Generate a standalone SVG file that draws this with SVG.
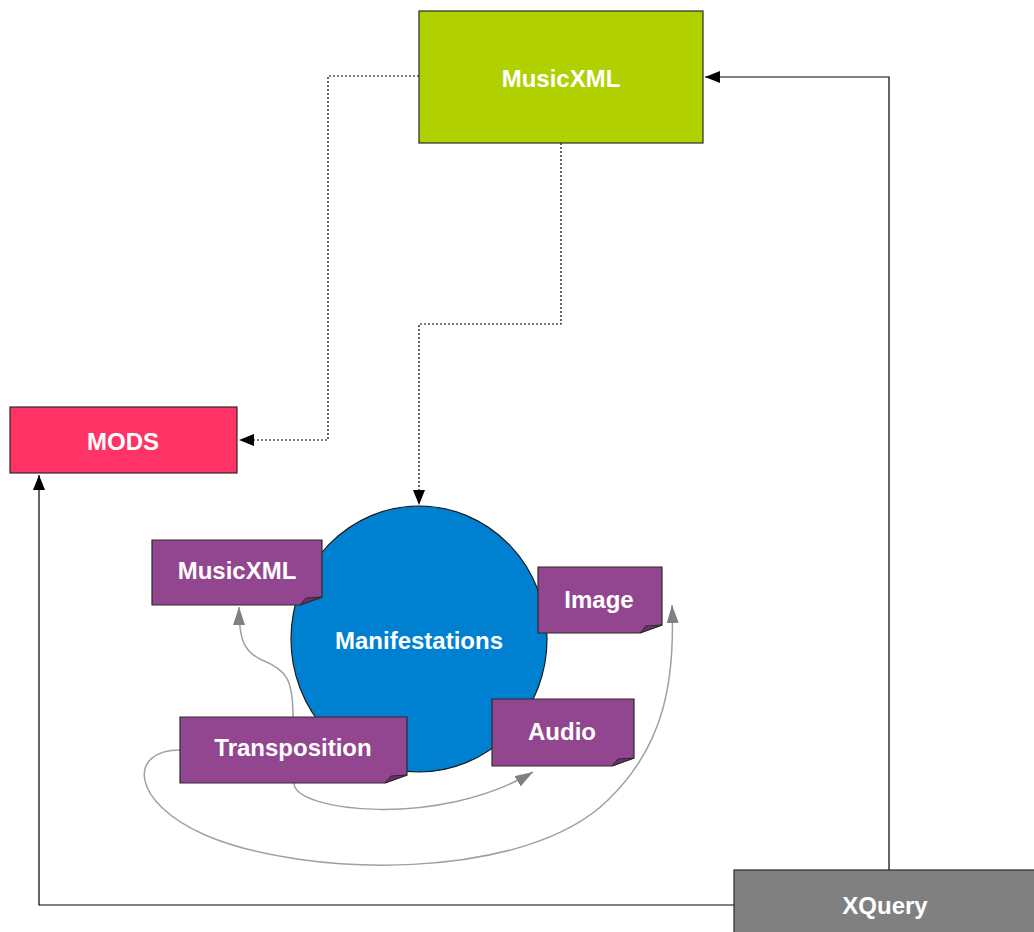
<svg xmlns="http://www.w3.org/2000/svg" width="1034" height="932" viewBox="0 0 1034 932">
  <style>
    .box { stroke: #2a2a2a; stroke-width: 1.2; }
    .lbl { font-family: "Liberation Sans", Arial, sans-serif; font-weight: bold; font-size: 24px; fill: #ffffff; text-anchor: middle; dominant-baseline: central; }
    .note { fill: #934690; stroke: #2a2a2a; stroke-width: 1.2; }
    .fold { fill: #6e2f6c; stroke: #2a2a2a; stroke-width: 1; }
    .solid { fill: none; stroke: #000000; stroke-width: 1.2; }
    .dotted { fill: none; stroke: #000000; stroke-width: 1.2; stroke-dasharray: 2 2; }
    .curve { fill: none; stroke: #a0a0a0; stroke-width: 1.5; }
  </style>
  <defs>
    <marker id="arrowBlack" viewBox="0 0 15 12" refX="15" refY="6" markerWidth="15" markerHeight="12" markerUnits="userSpaceOnUse" orient="auto">
      <path d="M0,0 L15,6 L0,12 Z" fill="#000000"/>
    </marker>
    <marker id="arrowGrey" viewBox="0 0 18 12" refX="18" refY="6" markerWidth="18" markerHeight="12" markerUnits="userSpaceOnUse" orient="auto">
      <path d="M0,0 L18,6 L0,12 Z" fill="#808080"/>
    </marker>
  </defs>

  <rect width="1034" height="932" fill="#ffffff"/>

  <g id="connectors">
    <!-- MusicXML to MODS -->
    <polyline class="dotted" points="419,76 328,76 328,440 239,440" marker-end="url(#arrowBlack)"/>
    <!-- MusicXML to Manifestations -->
    <polyline class="dotted" points="561,143 561,324 419,324 419,505" marker-end="url(#arrowBlack)"/>
    <!-- XQuery to MusicXML -->
    <polyline class="solid" points="889,870 889,77 705,77" marker-end="url(#arrowBlack)"/>
    <!-- XQuery to MODS -->
    <polyline class="solid" points="734,905 39,905 39,475" marker-end="url(#arrowBlack)"/>
    <!-- Transposition to MusicXML -->
    <path class="curve" d="M293,717 C293,680 287,670 262,660 C244,652 239,640 239,607" marker-end="url(#arrowGrey)"/>
    <!-- Transposition to Audio -->
    <path class="curve" d="M294,783 C294,812 440,828 533,772" marker-end="url(#arrowGrey)"/>
    <!-- Transposition to Image -->
    <path class="curve" d="M180,750 C128,750 130,802 205,835 C305,878 525,882 608,800 C665,745 675,680 672,605" marker-end="url(#arrowGrey)"/>
  </g>

  <g id="musicxml">
    <rect class="box" x="419" y="11" width="284" height="132" fill="#b0d000"/>
    <text class="lbl" x="561" y="78">MusicXML</text>
  </g>

  <g id="mods">
    <rect class="box" x="10" y="407" width="227" height="66" fill="#ff3366"/>
    <text class="lbl" x="123" y="441">MODS</text>
  </g>

  <g id="manifestations">
    <ellipse cx="419" cy="639" rx="128" ry="133" fill="#0080d0" stroke="#1a1a1a" stroke-width="1.2"/>
    <text class="lbl" x="419" y="640">Manifestations</text>
  </g>

  <g id="note-musicxml">
    <path class="note" d="M152,540 H322 V597 L300,605 H152 Z"/>
    <path class="fold" d="M300,605 L306,598 L322,597 Z"/>
    <text class="lbl" x="237" y="570">MusicXML</text>
  </g>

  <g id="note-image">
    <path class="note" d="M538,567 H662 V625 L640,633 H538 Z"/>
    <path class="fold" d="M640,633 L646,626 L662,625 Z"/>
    <text class="lbl" x="599" y="599">Image</text>
  </g>

  <g id="note-audio">
    <path class="note" d="M492,699 H634 V758 L612,766 H492 Z"/>
    <path class="fold" d="M612,766 L618,759 L634,758 Z"/>
    <text class="lbl" x="562" y="731">Audio</text>
  </g>

  <g id="note-transposition">
    <path class="note" d="M180,717 H407 V775 L385,783 H180 Z"/>
    <path class="fold" d="M385,783 L391,776 L407,775 Z"/>
    <text class="lbl" x="293" y="747">Transposition</text>
  </g>

  <g id="xquery">
    <rect class="box" x="734" y="870" width="310" height="70" fill="#808080"/>
    <text class="lbl" x="885" y="905">XQuery</text>
  </g>
</svg>
